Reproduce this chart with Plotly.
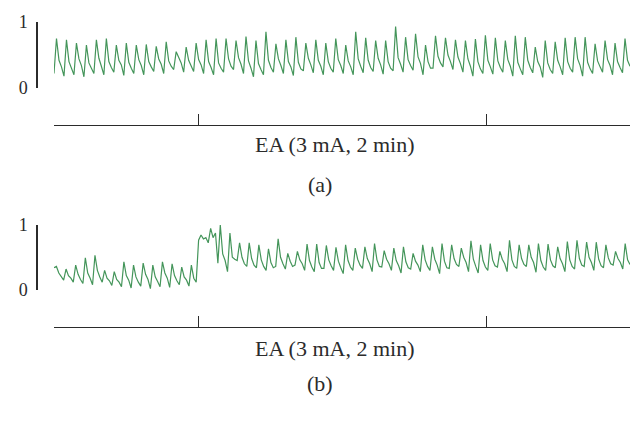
import numpy as np
import plotly.graph_objects as go

# normalised signal (each group of 4 = trough, peak, fall, shoulder)
signal_a = [
    0.22, 0.75, 0.42, 0.32, 0.18, 0.73, 0.40, 0.30, 0.20, 0.68, 0.44, 0.34, 0.17, 0.65, 0.38, 0.30,
    0.22, 0.73, 0.45, 0.33, 0.20, 0.75, 0.40, 0.31, 0.24, 0.65, 0.42, 0.35, 0.19, 0.68, 0.39, 0.30,
    0.22, 0.65, 0.43, 0.34, 0.20, 0.66, 0.40, 0.32, 0.25, 0.63, 0.44, 0.36, 0.22, 0.70, 0.41, 0.33,
    0.28, 0.55, 0.45, 0.38, 0.24, 0.62, 0.42, 0.34,
    0.25, 0.68, 0.43, 0.35, 0.22, 0.73, 0.40, 0.31, 0.20, 0.75, 0.38, 0.30, 0.24, 0.75, 0.44, 0.33,
    0.28, 0.72, 0.46, 0.36, 0.22, 0.78, 0.41, 0.30, 0.17, 0.72, 0.37, 0.28, 0.20, 0.85, 0.42, 0.31,
    0.24, 0.67, 0.44, 0.34, 0.22, 0.73, 0.40, 0.32, 0.19, 0.77, 0.39, 0.29, 0.26, 0.68, 0.45, 0.35,
    0.23, 0.73, 0.42, 0.33, 0.20, 0.68, 0.40, 0.30, 0.24, 0.75, 0.43, 0.34,
    0.22, 0.65, 0.41, 0.32, 0.20, 0.85, 0.44, 0.33, 0.23, 0.76, 0.42, 0.31, 0.25, 0.72, 0.45, 0.35,
    0.21, 0.72, 0.40, 0.30, 0.26, 0.93, 0.46, 0.36, 0.24, 0.77, 0.43, 0.34, 0.27, 0.82, 0.47, 0.37,
    0.20, 0.65, 0.40, 0.30, 0.30, 0.79, 0.48, 0.38, 0.32, 0.76, 0.50, 0.40, 0.28, 0.73, 0.47, 0.37,
    0.24, 0.72, 0.44, 0.33, 0.18, 0.74, 0.40, 0.29, 0.22, 0.80, 0.42, 0.32,
    0.21, 0.76, 0.41, 0.31, 0.24, 0.72, 0.43, 0.33, 0.18, 0.79, 0.39, 0.29, 0.20, 0.77, 0.42, 0.31,
    0.23, 0.62, 0.40, 0.32, 0.16, 0.72, 0.38, 0.28, 0.22, 0.70, 0.42, 0.32, 0.20, 0.76, 0.40, 0.30,
    0.24, 0.77, 0.44, 0.34, 0.18, 0.77, 0.39, 0.29, 0.22, 0.67, 0.41, 0.32, 0.24, 0.72, 0.43, 0.34,
    0.20, 0.68, 0.40, 0.31, 0.23, 0.75, 0.42, 0.33,
]

signal_b = [
    # before EA
    0.34, 0.36, 0.26, 0.20, 0.15, 0.32, 0.22, 0.18, 0.12, 0.38, 0.24, 0.16, 0.10, 0.49, 0.26, 0.18,
    0.08, 0.53, 0.30, 0.20, 0.12, 0.30, 0.18, 0.14, 0.07, 0.28, 0.16, 0.12, 0.05, 0.43, 0.22, 0.15,
    0.03, 0.38, 0.20, 0.12, 0.06, 0.41, 0.24, 0.16, 0.02, 0.38, 0.20, 0.13, 0.05, 0.43, 0.26, 0.18,
    0.04, 0.40, 0.22, 0.14, 0.08, 0.35, 0.20, 0.15, 0.06, 0.38, 0.18, 0.12,
    # EA on
    0.76, 0.84, 0.78, 0.80, 0.72, 0.94, 0.80, 0.87, 0.41, 0.99, 0.55, 0.45, 0.28, 0.87, 0.50, 0.47,
    0.45, 0.72, 0.50, 0.40, 0.36, 0.72, 0.48, 0.38, 0.34, 0.69, 0.46, 0.36, 0.30, 0.63, 0.42, 0.34,
    0.36, 0.78, 0.50, 0.40, 0.32, 0.56, 0.44, 0.36, 0.38, 0.59, 0.46, 0.40, 0.30, 0.70, 0.45, 0.35,
    0.28, 0.70, 0.42, 0.33, 0.33, 0.68, 0.46, 0.37, 0.30, 0.65, 0.44, 0.34,
    0.25, 0.69, 0.45, 0.35, 0.30, 0.64, 0.47, 0.38, 0.33, 0.66, 0.48, 0.40, 0.28, 0.71, 0.46, 0.36,
    0.35, 0.60, 0.47, 0.40, 0.30, 0.64, 0.45, 0.37, 0.26, 0.66, 0.43, 0.34, 0.32, 0.56, 0.44, 0.38,
    0.28, 0.69, 0.46, 0.36, 0.30, 0.66, 0.47, 0.38, 0.25, 0.71, 0.44, 0.34, 0.33, 0.69, 0.48, 0.39,
    0.36, 0.64, 0.50, 0.42, 0.28, 0.75, 0.47, 0.36, 0.26, 0.69, 0.45, 0.35,
    # after EA
    0.30, 0.71, 0.46, 0.37, 0.35, 0.59, 0.47, 0.40, 0.28, 0.76, 0.46, 0.36, 0.33, 0.69, 0.48, 0.39,
    0.36, 0.69, 0.50, 0.42, 0.27, 0.71, 0.45, 0.35, 0.30, 0.70, 0.46, 0.37, 0.34, 0.66, 0.48, 0.40,
    0.28, 0.74, 0.46, 0.36, 0.32, 0.76, 0.48, 0.38, 0.36, 0.73, 0.50, 0.42, 0.30, 0.73, 0.47, 0.37,
    0.34, 0.69, 0.49, 0.40, 0.38, 0.59, 0.48, 0.42, 0.32, 0.71, 0.46, 0.39,
]

duration = 240          # s, whole record
ea_marks = [60, 180]    # EA on / off
y_ticks = [0, 1]
ea_label = "EA (3 mA, 2 min)"
panel_labels = ["(a)", "(b)"]

W, H = 643, 430
GREEN = "#44955a"
INK = "#2b2b2b"
SERIF = "Liberation Serif, Times New Roman, serif"


def px(x):
    return x / W


def py(y):
    return 1 - y / H


fig = go.Figure()

# (signal, x-axis line y, y=0 px, y=1 px, label y, panel label y)
panels = [
    (signal_a, 125, 88, 22, 145, 184),
    (signal_b, 327, 290, 224.5, 348, 383),
]

for i, (sig, axis_y, y0, y1, lab_y, pan_y) in enumerate(panels, start=1):
    t = np.linspace(0, duration, len(sig))
    sfx = "" if i == 1 else str(i)
    fig.add_trace(go.Scatter(
        x=t, y=sig, mode="lines",
        line=dict(color=GREEN, width=1.2),
        xaxis="x" + sfx, yaxis="y" + sfx, showlegend=False,
    ))
    fig.layout["xaxis" + sfx] = dict(
        domain=[px(54), px(630)], range=[0, duration],
        anchor="free", position=py(axis_y), automargin=False,
        showline=True, linecolor=INK, linewidth=1.2,
        ticks="inside", tickvals=ea_marks, ticklen=11, tickcolor=INK, tickwidth=1.2,
        showticklabels=False, showgrid=False, zeroline=False,
    )
    fig.layout["yaxis" + sfx] = dict(
        domain=[py(y0), py(y1)], range=[0, 1],
        anchor="free", position=px(37), automargin=False,
        showline=True, linecolor=INK, linewidth=1.5,
        ticks="inside", tickvals=y_ticks, ticklen=6, tickcolor=INK, tickwidth=1.5,
        ticklabelstandoff=5,
        tickfont=dict(family=SERIF, size=18, color=INK),
        showgrid=False, zeroline=False,
    )
    fig.add_annotation(x=px(335), y=py(lab_y), xref="paper", yref="paper",
                       xanchor="center", yanchor="middle",
                       text=ea_label, showarrow=False,
                       font=dict(family=SERIF, size=22, color=INK))
    fig.add_annotation(x=px(320), y=py(pan_y), xref="paper", yref="paper",
                       xanchor="center", yanchor="middle",
                       text=panel_labels[i - 1], showarrow=False,
                       font=dict(family=SERIF, size=22, color=INK))

fig.update_layout(
    template="none",
    width=W, height=H,
    margin=dict(l=0, r=0, t=0, b=0, pad=0),
    paper_bgcolor="white", plot_bgcolor="white",
)

# the page's default body margin would shift the whole figure by 8px
fig.write_html("out.html", config={"displayModeBar": False},
               post_script="document.body.style.margin = '0';")
